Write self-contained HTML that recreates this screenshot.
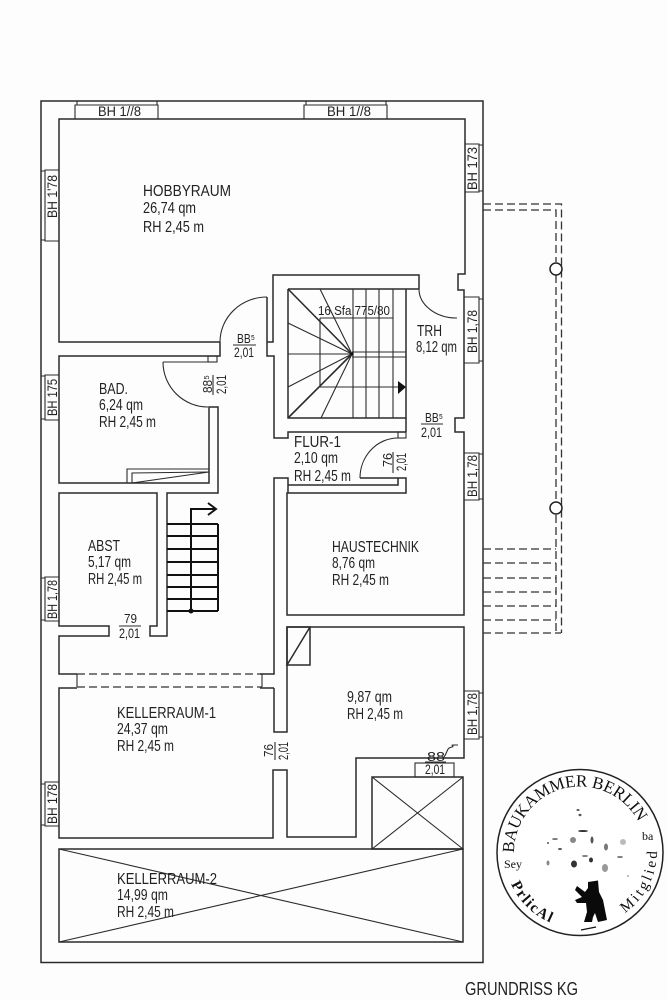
<!DOCTYPE html>
<html>
<head>
<meta charset="utf-8">
<style>
html,body{margin:0;padding:0;background:#fdfdfd;width:667px;height:1000px;overflow:hidden}
svg{display:block;filter:blur(.3px)}
.w{fill:none;stroke:#2b2b2b;stroke-width:1.5}
.t{fill:none;stroke:#2b2b2b;stroke-width:1.1}
.k{fill:none;stroke:#111;stroke-width:2}
.d{fill:none;stroke:#333;stroke-width:1.3;stroke-dasharray:8 4}
text{font-family:"Liberation Sans",sans-serif;fill:#222;font-size:15.5px}
.s{font-size:13.5px}
.x{font-size:13px}
.f{font-family:"Liberation Serif",serif;fill:#111;font-weight:bold}
</style>
</head>
<body>
<svg width="667" height="1000" viewBox="0 0 667 1000" xmlns="http://www.w3.org/2000/svg">
<rect x="0" y="0" width="667" height="1000" fill="#fdfdfd"/>
<!-- outer -->
<rect class="w" x="41" y="101" width="442" height="861.5"/>

<!-- hobby -->
<path class="w" d="M220,342H59V119H465V274H458V290H464V418H455V432H464V615H287V493H406V478H360"/>
<path class="t" d="M220,342A47,45 0 0 1 267,297"/>
<path class="w" d="M267,297V342H273V275H419V289M267,342V356H274V438H288V432H406"/>
<path class="t" d="M419,289A38,29 0 0 0 457,318"/>
<path class="w" d="M288,289H419M288,289V418H406V289"/>
<path class="w" d="M406,418V432"/>
<rect class="t" x="398" y="432" width="8" height="6"/>
<path class="t" d="M398,438A38,40 0 0 0 360,478"/>
<path class="w" d="M398,478V485H288V478H274V674H260M288,485V493M274,688H260M274,688V732H287V627H464V758H356V837H287V770H273V838H59V688H77M273,688H262"/>

<!-- stair TRH -->
<path class="t" d="M320,318H393M320,318V387H406M353,289V418M366,289V418M379,289V418M393,289V418M288,354H352M352,352H406M352,357H406"/>
<path class="t" d="M352,354L320,289M352,354L288,323M352,354L288,387M352,354L321,418"/>
<path class="w" d="M352,354L288,289M352,354L288,418" style="stroke-width:1.6"/>
<circle cx="352" cy="354" r="1.6" fill="#111"/>
<path d="M398,381L406,387L398,394Z" fill="#111"/>

<!-- bad -->
<path class="w" d="M220,342V356H59V483H209V407H218V493H167V636H150V626H157V493H59V626H109V636H59V674H77"/>
<rect class="t" x="208" y="356" width="9" height="6"/>
<path class="t" d="M163,362H208M163,362A45,45 0 0 0 208,407"/>
<path class="t" d="M127,483V469H209M132,483V473L209,472M132,483L209,472"/>
<path class="t" d="M262,674V687M77,674V687"/>
<path class="d" d="M77,674H262M77,687H262"/>

<!-- stairs down -->
<path class="k" d="M167,524H218M167,536H218M167,549H218M167,562H218M167,575H218M167,587H218M167,599H218M167,611H218M218,524V611"/>
<path class="k" d="M191,611V509H216M208,503L216,509L208,515"/>
<circle cx="191" cy="611" r="2.5" fill="#111"/>

<!-- cellar shaft etc -->
<path class="w" d="M287,665V627H310V665H287L310,627"/>
<rect class="w" x="372" y="777" width="91" height="72"/>
<path class="t" d="M372,777L463,849M463,777L372,849"/>
<rect class="t" x="415" y="763" width="39" height="14"/>
<path class="t" d="M444,757C448,752 446,748 452,747C455,746 450,745 453,745H458"/>

<!-- kellerraum 2 -->
<path class="w" d="M59,849H463V942H59Z"/>
<path class="t" d="M59,849L463,942M59,942L463,849"/>

<!-- terrace -->
<path class="d" d="M483,204H561.5V633M483,210H556V262M556,275V502M556,515V633"/>
<path class="d" d="M483,549H556M483,563H556M483,578H556M483,592H556M483,606H556M483,620H556M483,633H561"/>
<circle cx="556" cy="269" r="6" fill="#fff" stroke="#222" stroke-width="1.5"/>
<circle cx="556" cy="508" r="6" fill="#fff" stroke="#222" stroke-width="1.5"/>

<!-- BH boxes top -->
<path class="t" d="M75,119V105H158V119M77,101V105M157,101V105"/>
<path class="t" d="M304,119V105H387V119M306,101V105M386,101V105"/>
<!-- BH left -->
<path class="t" d="M59,170H45V241H59M41,171H45M41,240H45"/>
<path class="t" d="M59,375H45V420H59M41,376H45M41,419H45"/>
<path class="t" d="M59,577H45V621H59M41,578H45M41,620H45"/>
<path class="t" d="M59,782H45V826H59M41,784H45M41,825H45"/>
<!-- BH right -->
<path class="t" d="M465,144H479V192H465M479,145H483M479,191H483"/>
<path class="t" d="M464,297H479V363H464M479,299H483M479,361H483"/>
<path class="t" d="M464,453H479V500H464M479,454H483M479,499H483"/>
<path class="t" d="M464,691H479V739H464M479,693H483M479,737H483"/>

<!-- BH text -->
<text class="s" x="98" y="116" textLength="43" lengthAdjust="spacingAndGlyphs">BH 1//8</text>
<text class="s" x="327" y="116" textLength="44" lengthAdjust="spacingAndGlyphs">BH 1//8</text>
<text class="s" transform="translate(57,218) rotate(-90)" textLength="43" lengthAdjust="spacingAndGlyphs">BH 1'78</text>
<text class="s" transform="translate(57,416) rotate(-90)" textLength="37" lengthAdjust="spacingAndGlyphs">BH 175</text>
<text class="s" transform="translate(57,619) rotate(-90)" textLength="39" lengthAdjust="spacingAndGlyphs">BH 1,78</text>
<text class="s" transform="translate(57,824) rotate(-90)" textLength="40" lengthAdjust="spacingAndGlyphs">BH 178</text>
<text class="s" transform="translate(477,190) rotate(-90)" textLength="43" lengthAdjust="spacingAndGlyphs">BH 173</text>
<text class="s" transform="translate(477,353) rotate(-90)" textLength="43" lengthAdjust="spacingAndGlyphs">BH 1,78</text>
<text class="s" transform="translate(477,497) rotate(-90)" textLength="42" lengthAdjust="spacingAndGlyphs">BH 1,78</text>
<text class="s" transform="translate(477,735) rotate(-90)" textLength="42" lengthAdjust="spacingAndGlyphs">BH 1,78</text>

<!-- room labels -->
<text x="143" y="196" textLength="88" lengthAdjust="spacingAndGlyphs">HOBBYRAUM</text>
<text x="143" y="213" textLength="53" lengthAdjust="spacingAndGlyphs">26,74 qm</text>
<text x="143" y="232" textLength="61" lengthAdjust="spacingAndGlyphs">RH 2,45 m</text>

<text x="99" y="394" textLength="29" lengthAdjust="spacingAndGlyphs">BAD.</text>
<text x="99" y="410" textLength="44" lengthAdjust="spacingAndGlyphs">6,24 qm</text>
<text x="99" y="427" textLength="57" lengthAdjust="spacingAndGlyphs">RH 2,45 m</text>

<text x="88" y="551" textLength="32" lengthAdjust="spacingAndGlyphs">ABST</text>
<text x="88" y="567" textLength="43" lengthAdjust="spacingAndGlyphs">5,17 qm</text>
<text x="88" y="584" textLength="54" lengthAdjust="spacingAndGlyphs">RH 2,45 m</text>

<text x="417" y="336" textLength="25" lengthAdjust="spacingAndGlyphs">TRH</text>
<text x="416" y="352" textLength="41" lengthAdjust="spacingAndGlyphs">8,12 qm</text>

<text x="294" y="447" textLength="47" lengthAdjust="spacingAndGlyphs">FLUR-1</text>
<text x="294" y="463" textLength="44" lengthAdjust="spacingAndGlyphs">2,10 qm</text>
<text x="294" y="481" textLength="57" lengthAdjust="spacingAndGlyphs">RH 2,45 m</text>

<text x="332" y="552" textLength="87" lengthAdjust="spacingAndGlyphs">HAUSTECHNIK</text>
<text x="332" y="568" textLength="43" lengthAdjust="spacingAndGlyphs">8,76 qm</text>
<text x="332" y="585" textLength="57" lengthAdjust="spacingAndGlyphs">RH 2,45 m</text>

<text x="347" y="702" textLength="45" lengthAdjust="spacingAndGlyphs">9,87 qm</text>
<text x="347" y="719" textLength="56" lengthAdjust="spacingAndGlyphs">RH 2,45 m</text>

<text x="117" y="718" textLength="99" lengthAdjust="spacingAndGlyphs">KELLERRAUM-1</text>
<text x="117" y="734" textLength="51" lengthAdjust="spacingAndGlyphs">24,37 qm</text>
<text x="117" y="751" textLength="57" lengthAdjust="spacingAndGlyphs">RH 2,45 m</text>

<text x="117" y="884" textLength="100" lengthAdjust="spacingAndGlyphs">KELLERRAUM-2</text>
<text x="117" y="900" textLength="51" lengthAdjust="spacingAndGlyphs">14,99 qm</text>
<text x="117" y="917" textLength="57" lengthAdjust="spacingAndGlyphs">RH 2,45 m</text>

<text class="x" x="318" y="315" textLength="72" lengthAdjust="spacingAndGlyphs">16 Sfa 775/80</text>

<!-- door labels -->
<text class="x" x="237" y="343" textLength="18" lengthAdjust="spacingAndGlyphs">BB⁵</text>
<path class="t" d="M233,345H256"/>
<text class="s" x="234" y="357" textLength="20" lengthAdjust="spacingAndGlyphs">2,01</text>

<text class="x" transform="translate(212,393) rotate(-90)" textLength="18" lengthAdjust="spacingAndGlyphs">88⁵</text>
<path class="t" d="M213,375V395"/>
<text class="s" transform="translate(226,394) rotate(-90)" textLength="19" lengthAdjust="spacingAndGlyphs">2,01</text>

<text class="x" x="425" y="422" textLength="18" lengthAdjust="spacingAndGlyphs">BB⁵</text>
<path class="t" d="M421,424H443"/>
<text class="s" x="421" y="437" textLength="21" lengthAdjust="spacingAndGlyphs">2,01</text>

<text class="x" transform="translate(392,467) rotate(-90)" textLength="14" lengthAdjust="spacingAndGlyphs">76</text>
<path class="t" d="M393,452V473"/>
<text class="s" transform="translate(406,471) rotate(-90)" textLength="18" lengthAdjust="spacingAndGlyphs">2,01</text>

<text class="x" x="124" y="623" textLength="13" lengthAdjust="spacingAndGlyphs">79</text>
<path class="t" d="M119,626H141"/>
<text class="s" x="119" y="638" textLength="21" lengthAdjust="spacingAndGlyphs">2,01</text>

<text class="x" transform="translate(273,757) rotate(-90)" textLength="13" lengthAdjust="spacingAndGlyphs">76</text>
<path class="t" d="M275,742V760"/>
<text class="s" transform="translate(288,760) rotate(-90)" textLength="18" lengthAdjust="spacingAndGlyphs">2,01</text>

<text class="x" x="427" y="761" textLength="18" lengthAdjust="spacingAndGlyphs">88</text>
<path class="t" d="M425,762H446"/>
<text class="s" x="425" y="774" textLength="20" lengthAdjust="spacingAndGlyphs">2,01</text>

<text x="465" y="995" textLength="113" lengthAdjust="spacingAndGlyphs" style="font-size:18px">GRUNDRISS KG</text>

<!-- stamp -->
<circle cx="580" cy="852.5" r="83" fill="#fff" stroke="#222" stroke-width="1.5"/>
<defs>
<path id="a1" d="M514,853A66,66 0 0 1 640.3,825.7"/>
<path id="a2" d="M511,884A76,76 0 0 0 560,926"/>
<path id="a3" d="M625,913A76,76 0 0 0 657,852"/>
</defs>
<text class="f" style="font-size:17px;font-weight:normal"><textPath href="#a1" textLength="176" lengthAdjust="spacing">BAUKAMMER BERLIN</textPath></text>
<text class="f" style="font-size:15px"><textPath href="#a2" textLength="56" lengthAdjust="spacing">PrlicAl</textPath></text>
<text class="f" style="font-size:15px;font-weight:normal"><textPath href="#a3" textLength="72" lengthAdjust="spacing">Mitglied</textPath></text>
<text class="f" x="504" y="868" style="font-size:12px;font-weight:normal">Sey</text>
<text class="f" x="642" y="840" style="font-size:12px;font-weight:normal">ba</text>
<path d="M588,882L598,880.5L599,892L603,900L607,920L598,922L595,913L593,917L592,922L584,922L587,912L586,903L577,903L575,900L582,897L575,890L577,886L585,892L588,888Z" fill="#0a0a0a"/>
<path d="M581,930L596,927" stroke="#111" stroke-width="1.3" fill="none"/>
<g fill="#555">
<ellipse cx="578" cy="810" rx="1.5" ry="1"/><ellipse cx="580" cy="815" rx="1.5" ry="1.2"/>
<ellipse cx="583" cy="831" rx="5" ry="1" fill="#333"/><ellipse cx="573" cy="840" rx="3" ry="3" fill="#888"/>
<ellipse cx="592" cy="840" rx="1.5" ry="3.5"/><ellipse cx="606" cy="847" rx="2" ry="3.5" fill="#777"/>
<ellipse cx="623" cy="842" rx="3" ry="3" fill="#bbb"/><ellipse cx="555" cy="839" rx="3" ry="1" fill="#777"/>
<ellipse cx="548" cy="843" rx="1" ry="1"/><ellipse cx="560" cy="849" rx="2" ry="1"/>
<ellipse cx="548" cy="863" rx="1.5" ry="2.5" fill="#888"/><ellipse cx="574" cy="864" rx="3" ry="3.5" fill="#333"/>
<ellipse cx="591" cy="860" rx="2" ry="2.5" fill="#333"/><ellipse cx="605" cy="868" rx="3" ry="4" fill="#999"/>
<ellipse cx="620" cy="857" rx="3" ry="1" fill="#777"/><ellipse cx="585" cy="856" rx="3" ry="0.8"/>
<ellipse cx="628" cy="876" rx="1" ry="1" fill="#aaa"/>
</g>
</svg>
</body>
</html>
